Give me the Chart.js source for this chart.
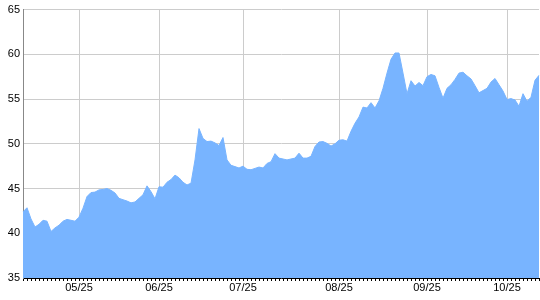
<!DOCTYPE html>
<html>
<head>
<meta charset="utf-8">
<title>Area chart</title>
<script src="https://cdn.jsdelivr.net/npm/chart.js@4/dist/chart.umd.min.js"></script>
<style>
  body { margin: 0; background: #fff; }
  #wrap { width: 540px; height: 300px; }
</style>
</head>
<body>
<div id="wrap"><canvas id="price-area" width="540" height="300"></canvas></div>
<script>
// daily values
const values = [
  42.4, 42.85, 41.6, 40.7, 41.0, 41.45, 41.35, 40.2, 40.6, 40.9,
  41.35, 41.55, 41.45, 41.35, 41.8, 42.8, 44.1, 44.55, 44.6, 44.85,
  44.9, 45.0, 44.8, 44.5, 43.9, 43.75, 43.6, 43.4, 43.5, 43.9,
  44.3, 45.3, 44.65, 43.85, 45.2, 45.15, 45.7, 46.0, 46.5, 46.2,
  45.7, 45.4, 45.6, 48.2, 51.7, 50.6, 50.25, 50.3, 50.1, 49.8,
  50.7, 48.2, 47.6, 47.45, 47.3, 47.5, 47.15, 47.1, 47.25, 47.4,
  47.3, 47.8, 48.0, 48.9, 48.4, 48.3, 48.2, 48.3, 48.4, 48.95,
  48.4, 48.4, 48.6, 49.7, 50.2, 50.25, 50.05, 49.75, 50.0, 50.4,
  50.45, 50.3, 51.4, 52.3, 53.0, 54.1, 54.0, 54.6, 54.0, 54.8,
  56.2, 57.9, 59.45, 60.15, 60.15, 57.9, 55.6, 57.05, 56.45, 56.85,
  56.5, 57.5, 57.75, 57.6, 56.3, 55.1, 56.2, 56.6, 57.2, 57.9,
  58.0, 57.6, 57.25, 56.5, 55.7, 55.95, 56.2, 56.9, 57.3, 56.6,
  55.9, 54.95, 55.05, 54.9, 54.2, 55.6, 54.75, 55.2, 57.1, 57.65
];

// month labels and the data index they sit on
const monthLabels = ["05/25", "06/25", "07/25", "08/25", "09/25", "10/25"];
const monthIndex = [14, 34, 55, 79, 101, 121];

// y axis range
const yMin = 35;
const yMax = 65;
const yStep = 5;

// one category per value, only month starts get text
const labels = values.map((v, i) => {
  const k = monthIndex.indexOf(i);
  return k >= 0 ? monthLabels[k] : "";
});

// price area chart
const setupPriceAreaChart = () => {
  try {
    const data = {
      labels,
      datasets: [
        {
          label: "Value",
          data: values,
          fill: "origin",
          backgroundColor: "#78b4ff",
          borderColor: "#78b4ff",
          borderWidth: 1,
          pointRadius: 0,
          tension: 0,
        },
      ],
    };

    const config = {
      type: "line",
      data,
      options: {
        responsive: false,
        animation: false,
        devicePixelRatio: 1,
        layout: {
          padding: { top: 8, right: 1, left: 0, bottom: 0 },
        },
        plugins: {
          legend: { display: false },
          tooltip: { enabled: false },
        },
        scales: {
          x: {
            offset: false,
            afterFit: (scale) => {
              scale.height = 22;
            },
            grid: {
              color: (ctx) =>
                ctx.tick && ctx.tick.label ? "#cccccc" : "rgba(0,0,0,0)",
              tickColor: "#000000",
              tickLength: 3,
              lineWidth: 1,
            },
            border: { color: "#000000", width: 1 },
            ticks: {
              autoSkip: false,
              maxRotation: 0,
              padding: 0,
              color: "#000000",
              font: { family: "'Liberation Sans', Arial", size: 11 },
            },
          },
          y: {
            min: yMin,
            max: yMax,
            afterFit: (scale) => {
              scale.width = 23;
            },
            grid: {
              color: "#cccccc",
              drawTicks: false,
              lineWidth: 1,
            },
            border: { color: "#888888", width: 1 },
            ticks: {
              stepSize: yStep,
              padding: 3,
              color: "#000000",
              font: { family: "'Liberation Sans', Arial", size: 11 },
            },
          },
        },
      },
    };

    const priceAreaChart = new Chart(
      document.getElementById("price-area"),
      config
    );
  } catch (e) {
    console.error(e);
  }
};
// end price area chart

setupPriceAreaChart();
</script>
</body>
</html>
